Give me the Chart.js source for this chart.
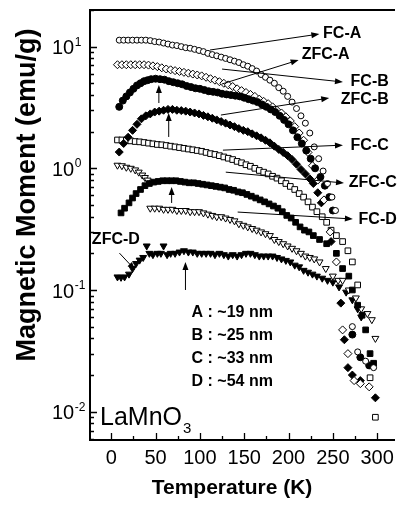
<!DOCTYPE html>
<html>
<head>
<meta charset="utf-8">
<script src="https://cdn.jsdelivr.net/npm/chart.js@4.4.1/dist/chart.umd.min.js"></script>
<style>
html, body { margin: 0; padding: 0; background: #fff; overflow: hidden; }
</style>
</head>
<body>
<canvas id="chart" width="399" height="506"></canvas>
<script>
'use strict';
// temperature (K) and magnetic moment (emu/g), one pair per curve
var tFcA = [9,14,19,24,29,34,39,44,49,54,59,64,69,74,79,84,89,94,99,104,109,114,119,124,129,134,139,144,149,154,159,164,169,174,179,184,189,194,199,204,209,214,219,224,229,234,239,244,249,253,272,278,287,296];
var mFcA = [11.3,11.3,11.3,11.3,11.3,11.3,11.3,11.2,11.0,10.9,10.7,10.5,10.3,10.2,10.0,9.8,9.7,9.5,9.3,9.1,8.8,8.6,8.4,8.2,8.0,7.8,7.6,7.4,7.1,6.9,6.6,6.3,5.9,5.6,5.3,5.0,4.6,4.3,3.9,3.5,3.1,2.7,2.35,1.95,1.5,1.2,0.95,0.75,0.58,0.45,0.05,0.031,0.026,0.023];

var tZfcA = [9,13,17,21,25,29,33,37,41,45,50,55,60,65,70,75,80,85,90,95,100,105,110,115,120,125,130,135,140,145,150,155,160,165,170,175,180,185,190,195,200,205,210,215,220,225,230,236,241,246,250,272,281,291];
var mZfcA = [3.2,3.6,3.9,4.2,4.5,4.8,5.0,5.2,5.3,5.4,5.45,5.4,5.35,5.2,5.1,5.0,4.9,4.75,4.65,4.55,4.5,4.4,4.3,4.25,4.2,4.1,4.05,4.0,3.95,3.9,3.8,3.7,3.6,3.5,3.35,3.2,3.05,2.9,2.7,2.5,2.3,2.05,1.8,1.6,1.4,1.2,1.0,0.85,0.72,0.58,0.45,0.043,0.028,0.024];

var tFcB = [7,12,17,22,27,32,37,42,47,52,57,62,67,72,77,82,87,92,97,102,107,112,117,122,127,132,137,142,147,152,157,162,167,172,177,182,187,192,197,202,207,212,217,222,227,233,240,247,254,261,267,274,281,291];
var mFcB = [7.1,7.1,7.1,7.1,7.1,7.1,7.1,7.05,6.95,6.85,6.7,6.55,6.45,6.35,6.25,6.15,6.05,5.95,5.85,5.75,5.6,5.45,5.3,5.15,5.0,4.85,4.7,4.5,4.35,4.2,4.05,3.9,3.7,3.55,3.4,3.2,3.0,2.85,2.65,2.45,2.2,1.95,1.7,1.35,1.05,0.8,0.55,0.3,0.17,0.047,0.03,0.018,0.017,0.016];

var tZfcB = [9,14,19,24,29,34,39,44,49,54,59,64,69,74,79,84,89,94,99,104,109,114,119,124,129,134,139,144,149,154,159,164,169,174,179,184,189,194,199,204,209,214,219,224,228,233,237,248,259,263,267,272,281,298];
var mZfcB = [1.36,1.6,1.8,2.05,2.3,2.55,2.7,2.8,2.9,2.95,3.0,3.05,3.05,3.0,2.98,2.95,2.9,2.85,2.8,2.72,2.65,2.58,2.5,2.42,2.35,2.27,2.2,2.12,2.05,2.0,1.92,1.85,1.78,1.7,1.62,1.52,1.43,1.35,1.27,1.18,1.08,0.98,0.9,0.82,0.75,0.63,0.52,0.25,0.078,0.039,0.023,0.02,0.018,0.013];

var tFcC = [7,12,17,22,27,32,37,42,47,52,57,62,67,72,77,82,87,92,97,102,107,112,117,122,127,132,137,142,147,152,157,162,167,172,177,182,187,192,197,202,207,212,217,222,227,232,238,243,248,254,261,267,272,278,292,298];
var mFcC = [1.71,1.71,1.7,1.68,1.66,1.65,1.63,1.61,1.59,1.57,1.56,1.54,1.52,1.5,1.48,1.46,1.44,1.42,1.4,1.38,1.35,1.32,1.3,1.27,1.24,1.21,1.18,1.14,1.11,1.07,1.04,1.0,0.96,0.93,0.9,0.86,0.83,0.79,0.75,0.71,0.67,0.62,0.58,0.53,0.48,0.44,0.4,0.36,0.31,0.28,0.25,0.21,0.17,0.11,0.019,0.009];

var tZfcC = [11,15,20,24,28,33,38,43,48,53,58,63,68,73,78,83,88,93,98,103,108,113,118,123,128,133,138,143,148,153,158,163,168,173,178,183,188,193,198,203,208,213,218,223,228,235,243,254,261,268,272,278,283,287,292,296];
var mZfcC = [0.43,0.47,0.52,0.57,0.62,0.67,0.72,0.75,0.77,0.78,0.79,0.79,0.79,0.79,0.78,0.77,0.76,0.76,0.75,0.74,0.73,0.72,0.71,0.7,0.69,0.67,0.66,0.64,0.63,0.61,0.59,0.57,0.55,0.53,0.51,0.49,0.47,0.44,0.41,0.39,0.36,0.33,0.31,0.3,0.28,0.26,0.24,0.2,0.15,0.13,0.1,0.075,0.062,0.047,0.03,0.025];

var tFcD = [7,12,17,22,27,31,35,38,41,44,49,54,59,64,69,74,79,84,89,94,99,104,109,114,119,124,129,134,139,144,149,154,159,164,169,174,179,184,189,194,199,204,209,214,219,224,229,235,242,250,256,261,268,276,282,289,294,298];
var mFcD = [1.06,1.05,1.02,1.0,0.97,0.93,0.88,0.84,0.8,0.47,0.47,0.47,0.46,0.46,0.46,0.45,0.45,0.45,0.44,0.44,0.44,0.43,0.42,0.41,0.4,0.4,0.39,0.38,0.37,0.35,0.34,0.33,0.32,0.31,0.3,0.29,0.28,0.26,0.25,0.24,0.23,0.22,0.21,0.2,0.19,0.185,0.18,0.17,0.15,0.13,0.12,0.12,0.1,0.086,0.07,0.064,0.057,0.04];

var tZfcD = [7,11,15,20,24,28,32,36,40,43,47,52,56,59,63,67,72,77,82,87,92,97,102,107,112,117,122,127,132,137,142,147,152,157,162,167,172,177,182,187,192,197,202,207,212,217,222,227,232,238,244,250,257,265,272,278,282];
var mZfcD = [0.128,0.127,0.128,0.135,0.15,0.165,0.176,0.185,0.23,0.2,0.195,0.2,0.2,0.23,0.195,0.2,0.2,0.205,0.21,0.205,0.205,0.2,0.2,0.2,0.2,0.195,0.2,0.195,0.19,0.195,0.19,0.195,0.2,0.2,0.195,0.19,0.19,0.19,0.19,0.185,0.18,0.175,0.17,0.16,0.155,0.145,0.14,0.135,0.13,0.125,0.12,0.116,0.106,0.096,0.083,0.07,0.06];

var xTicks = [0, 50, 100, 150, 200, 250, 300];
var yDecades = [0.01, 0.1, 1, 10];
var yExponents = ['-2', '-1', '0', '1'];
var sizeLabels = ['A : ~19 nm', 'B : ~25 nm', 'C : ~33 nm', 'D : ~54 nm'];

var fam = '"Liberation Sans", Arial, Helvetica, sans-serif';
Chart.defaults.font.family = fam;
Chart.defaults.color = '#000';

function makeSet(label, t, m, shape, filled, r, rot) {
  return {
    label: label,
    data: t.map(function(v, i) { return {x: v, y: m[i]}; }),
    showLine: false,
    pointStyle: shape,
    pointRadius: r,
    pointHoverRadius: r,
    pointRotation: rot || 0,
    pointBackgroundColor: filled ? '#000' : '#fff',
    pointBorderColor: '#000',
    pointBorderWidth: 1
  };
}

// curve labels and their arrows, in data units (T, M)
var curveNotes = [
  {text: 'FC-A',  at: [239, 12.9],   from: [111.4, 9.38], to: [234.8, 12.7]},
  {text: 'ZFC-A', at: [214.8, 8.53], from: [124.8, 4.93], to: [211.4, 7.76]},
  {text: 'FC-B',  at: [270, 5.12],   from: [125, 6.54],   to: [261.4, 5.12]},
  {text: 'ZFC-B', at: [259, 3.64],   from: [123.7, 2.74], to: [245.9, 3.78]},
  {text: 'FC-C',  at: [270, 1.55],   from: [126, 1.41],   to: [261.4, 1.55]},
  {text: 'ZFC-C', at: [268, 0.757],  from: [129.2, 0.93], to: [262.6, 0.757]},
  {text: 'FC-D',  at: [279, 0.376],  from: [142.6, 0.437], to: [272.6, 0.383]},
  {text: 'ZFC-D', at: [-21.9, 0.258], from: [9.2, 0.201], to: [27, 0.146]}
];
// vertical arrows marking the ZFC maxima: T, M start, M end
var peakArrows = [[53.7, 3.44, 4.83], [64.8, 1.81, 2.85], [68.1, 0.519, 0.702], [83.7, 0.1, 0.17]];

function arrow(ctx, x1, y1, x2, y2) {
  var a = Math.atan2(y2 - y1, x2 - x1), L = 8, W = 3;
  ctx.beginPath();
  ctx.moveTo(x1, y1);
  ctx.lineTo(x2 - Math.cos(a) * L * 0.8, y2 - Math.sin(a) * L * 0.8);
  ctx.stroke();
  ctx.beginPath();
  ctx.moveTo(x2, y2);
  ctx.lineTo(x2 - Math.cos(a) * L - Math.sin(a) * W, y2 - Math.sin(a) * L + Math.cos(a) * W);
  ctx.lineTo(x2 - Math.cos(a) * L + Math.sin(a) * W, y2 - Math.sin(a) * L - Math.cos(a) * W);
  ctx.closePath();
  ctx.fill();
}

var notePlugin = {
  id: 'notes',
  afterDraw: function(chart) {
    var ctx = chart.ctx, xs = chart.scales.x, ys = chart.scales.y, area = chart.chartArea;
    var px = function(t) { return xs.getPixelForValue(t); };
    var py = function(m) { return ys.getPixelForValue(m); };
    ctx.save();
    ctx.fillStyle = '#000';
    ctx.strokeStyle = '#000';

    // inward tick marks
    ctx.lineWidth = 1.3;
    ctx.beginPath();
    [0.001, 0.01, 0.1, 1, 10].forEach(function(d) {
      for (var k = 1; k <= 9; k++) {
        var v = d * k;
        if (v < ys.min || v > ys.max) continue;
        var y = Math.round(py(v)) + 0.5;
        ctx.moveTo(area.left, y);
        ctx.lineTo(area.left + (k === 1 ? 7 : 4), y);
      }
    });
    for (var t = 0; t <= 300; t += 25) {
      var x = Math.round(px(t)) + 0.5;
      ctx.moveTo(x, area.bottom);
      ctx.lineTo(x, area.bottom - (t % 50 === 0 ? 7 : 4));
    }
    ctx.stroke();

    // y tick labels 10^n
    yDecades.forEach(function(v, i) {
      var y = py(v), xl = area.left - 38;
      ctx.font = '20px ' + fam;
      ctx.textAlign = 'left';
      ctx.textBaseline = 'middle';
      ctx.fillText('10', xl, y + 2);
      var w = ctx.measureText('10').width;
      ctx.font = '12px ' + fam;
      ctx.textBaseline = 'alphabetic';
      ctx.fillText(yExponents[i], xl + w + 0.5, y - 1);
    });

    // axis titles
    ctx.font = 'bold 27px ' + fam;
    ctx.textAlign = 'center';
    ctx.textBaseline = 'middle';
    ctx.save();
    ctx.translate(area.left - 62, (area.top + area.bottom) / 2 - 30);
    ctx.rotate(-Math.PI / 2);
    ctx.fillText('Magnetic Moment (emu/g)', 0, 0);
    ctx.restore();
    ctx.font = 'bold 21px ' + fam;
    ctx.fillText('Temperature (K)', (area.left + area.right) / 2 - 10, area.bottom + 48);

    // curve labels with arrows
    ctx.lineWidth = 1;
    curveNotes.forEach(function(n) {
      arrow(ctx, px(n.from[0]), py(n.from[1]), px(n.to[0]), py(n.to[1]));
      ctx.font = 'bold 16px ' + fam;
      ctx.textAlign = 'left';
      ctx.textBaseline = 'middle';
      ctx.fillText(n.text, px(n.at[0]), py(n.at[1]));
    });
    peakArrows.forEach(function(p) {
      arrow(ctx, px(p[0]), py(p[1]), px(p[0]), py(p[2]));
    });

    // particle sizes
    ctx.font = 'bold 16px ' + fam;
    ctx.textAlign = 'left';
    ctx.textBaseline = 'middle';
    sizeLabels.forEach(function(s, i) {
      ctx.fillText(s, px(90.6), py(0.0647) + i * 23);
    });

    // sample name
    ctx.textBaseline = 'alphabetic';
    ctx.font = '25px ' + fam;
    var sx = area.left + 10, sy = area.bottom - 15;
    ctx.fillText('LaMnO', sx, sy);
    var sw = ctx.measureText('LaMnO').width;
    ctx.font = '15px ' + fam;
    ctx.fillText('3', sx + sw + 1, sy + 8);
    ctx.restore();
  }
};

var axisBorder = { display: true, color: '#000', width: 2 };

new Chart(document.getElementById('chart').getContext('2d'), {
  type: 'scatter',
  data: {
    datasets: [
      makeSet('FC-A', tFcA, mFcA, 'circle', false, 3),
      makeSet('ZFC-A', tZfcA, mZfcA, 'circle', true, 3.5),
      makeSet('FC-B', tFcB, mFcB, 'rectRot', false, 4),
      makeSet('ZFC-B', tZfcB, mZfcB, 'rectRot', true, 4),
      makeSet('FC-C', tFcC, mFcC, 'rect', false, 4),
      makeSet('ZFC-C', tZfcC, mZfcC, 'rect', true, 4),
      makeSet('FC-D', tFcD, mFcD, 'triangle', false, 4, 180),
      makeSet('ZFC-D', tZfcD, mZfcD, 'triangle', true, 4, 180)
    ]
  },
  options: {
    responsive: false,
    animation: false,
    events: [],
    layout: { padding: { top: 10, right: 0, bottom: 0, left: 0 } },
    plugins: { legend: { display: false }, tooltip: { enabled: false } },
    scales: {
      x: {
        type: 'linear', position: 'bottom', min: -24, max: 319,
        afterBuildTicks: function(s) { s.ticks = xTicks.map(function(v) { return {value: v}; }); },
        afterFit: function(s) { s.height = 66; s.paddingLeft = 0; s.paddingRight = 0; },
        grid: { display: false, drawTicks: false },
        border: axisBorder,
        ticks: { color: '#000', font: { size: 20 }, padding: 6, maxRotation: 0, autoSkip: false }
      },
      x2: {
        type: 'linear', position: 'top', min: -24, max: 319,
        afterFit: function(s) { s.height = 0; s.paddingLeft = 0; s.paddingRight = 0; },
        grid: { display: false, drawTicks: false },
        border: axisBorder,
        ticks: { display: false }
      },
      y: {
        type: 'logarithmic', position: 'left', min: 0.00585, max: 20,
        afterBuildTicks: function(s) { s.ticks = yDecades.map(function(v) { return {value: v}; }); },
        afterFit: function(s) { s.width = 90; s.paddingTop = 0; s.paddingBottom = 0; },
        grid: { display: false, drawTicks: false },
        border: axisBorder,
        ticks: { display: false }
      }
    }
  },
  plugins: [notePlugin]
});
</script>
</body>
</html>
